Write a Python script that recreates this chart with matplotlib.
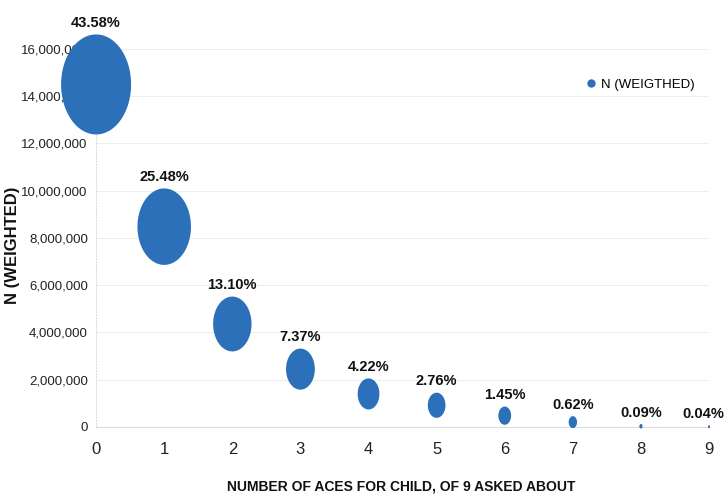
import matplotlib
matplotlib.use("Agg")
import matplotlib.pyplot as plt
from matplotlib.path import Path
from matplotlib.lines import Line2D
from matplotlib.ticker import FuncFormatter
import numpy as np

plt.rcParams['font.family'] = ['Liberation Sans', 'DejaVu Sans']

aces = [0, 1, 2, 3, 4, 5, 6, 7, 8, 9]
n_weighted = [14500000, 8480000, 4360000, 2450000, 1400000, 920000, 480000, 206000, 30000, 13000]
pct_labels = ["43.58%", "25.48%", "13.10%", "7.37%", "4.22%", "2.76%", "1.45%", "0.62%", "0.09%", "0.04%"]

blue = "#2b70b8"

fig = plt.figure(figsize=(7.28, 4.99), dpi=100)
ax = fig.add_axes([0.132, 0.1443, 0.842, 0.7575])

# ellipse marker (the source image is squeezed horizontally)
t = np.linspace(0, 2 * np.pi, 100)
ell = Path(np.column_stack([0.7 * np.cos(t), np.sin(t)]), closed=True)

smax = 5184.0
sizes = [v / max(n_weighted) * smax for v in n_weighted]
ax.scatter(aces, n_weighted, s=sizes, marker=ell, color=blue, edgecolors="none",
           clip_on=False, zorder=3)

for i, (x, y, s, lab) in enumerate(zip(aces, n_weighted, sizes, pct_labels)):
    dx = -4 if i == len(aces) - 1 else 0   # keep last label inside the figure
    ax.annotate(lab, (x, y), xytext=(dx, np.sqrt(s) / 2 + 3), textcoords="offset points",
                ha="center", va="bottom", fontsize=10.5, fontweight="bold", color="#111111",
                annotation_clip=False)

ax.set_xlim(0, 9)
ax.set_ylim(0, 16000000)
ax.set_xticks(aces)
ax.set_yticks(range(0, 16000001, 2000000))
ax.yaxis.set_major_formatter(FuncFormatter(lambda v, p: f"{int(v):,}"))
ax.tick_params(axis="x", length=0, pad=11, labelsize=12, colors="#222222")
ax.tick_params(axis="y", length=0, pad=6, labelsize=9.5, colors="#222222")

ax.grid(axis="y", color="#eeeeee", linewidth=0.8)
ax.set_axisbelow(True)
for sp in ["top", "right"]:
    ax.spines[sp].set_visible(False)
ax.spines["left"].set_color("#dddddd")
ax.spines["left"].set_linestyle(":")
ax.spines["bottom"].set_color("#dddddd")

ax.set_xlabel("NUMBER OF ACES FOR CHILD, OF 9 ASKED ABOUT", fontsize=10, fontweight="bold",
              color="#111111")
ax.xaxis.set_label_coords(0.498, -0.14)
ax.set_ylabel("N (WEIGHTED)", fontsize=12, fontweight="bold", color="#111111")
ax.yaxis.set_label_coords(-0.124, 0.48)

handle = Line2D([], [], marker="o", linestyle="none", color=blue, markersize=5)
ax.legend([handle], ["N (WEIGTHED)"], loc="center left", bbox_to_anchor=(0.79, 0.905),
          frameon=False, fontsize=9.5, handlelength=0.6, handletextpad=0.5, borderpad=0)

fig.savefig("out.png", dpi=100)
